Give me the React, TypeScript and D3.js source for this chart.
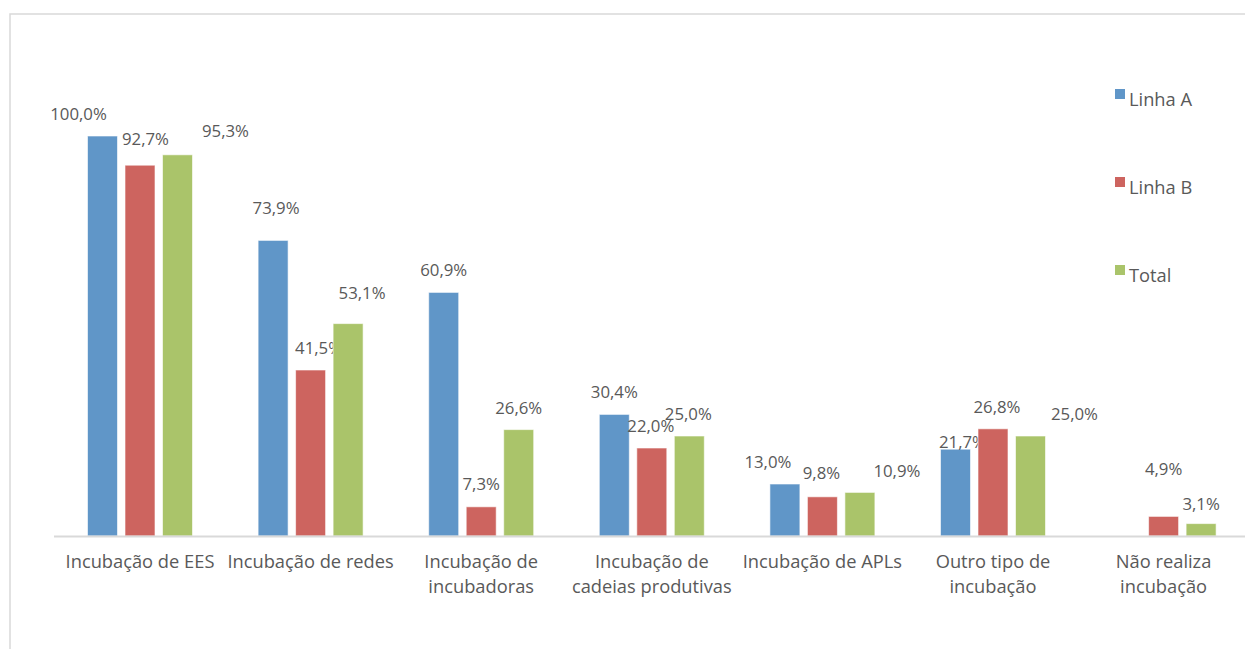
import React from "react";
import * as d3 from "d3";

const categories: string[][] = [
  ["Incubação de EES"],
  ["Incubação de redes"],
  ["Incubação de", "incubadoras"],
  ["Incubação de", "cadeias produtivas"],
  ["Incubação de APLs"],
  ["Outro tipo de", "incubação"],
  ["Não realiza", "incubação"],
];
const seriesNames = ["Linha A", "Linha B", "Total"];
const linhaA = [100.0, 73.9, 60.9, 30.4, 13.0, 21.7, 0];
const linhaB = [92.7, 41.5, 7.3, 22.0, 9.8, 26.8, 4.9];
const total = [95.3, 53.1, 26.6, 25.0, 10.9, 25.0, 3.1];
const seriesValues = [linhaA, linhaB, total];
const colors = ["#6096c8", "#cd645f", "#aac46a"];

// label layout offsets (dx, distance above bar top) mimicking manual placement
const labelOffsets: [number, number][][] = [
  [[-24, 23], [3, 33], [0, 23], [0, 23], [-17, 23], [7, 8], [0, 23]],
  [[5.5, 27], [8, 23], [0, 23], [-1, 23], [-1, 24], [4, 22], [0, 48]],
  [[48, 24], [14, 31], [0, 22], [-1, 23], [37, 22], [44, 23], [0, 20]],
];

const W = 1245;
const H = 649;
const FONT = "'Open Sans', 'Noto Sans', sans-serif";
const TEXT = "#595959";

export default function App() {
  const catKeys = categories.map((c) => c.join(" "));
  const x = d3.scaleBand<string>().domain(catKeys).range([54.7, 1248.9]).padding(0);
  const bw = x.bandwidth();
  const xs = d3
    .scaleBand<string>()
    .domain(seriesNames)
    .range([bw / 2 - 56.25, bw / 2 + 56.25])
    .paddingInner(0.2)
    .paddingOuter(0.1);
  const y = d3.scaleLinear().domain([0, 120]).range([536, 56]);
  const fmt = (v: number) => d3.format(".1f")(v).replace(".", ",") + "%";

  return (
    <svg
      width={W}
      height={H}
      style={{ position: "absolute", left: 0, top: 0, background: "#fff" }}
      fontFamily={FONT}
    >
      <rect x={10} y={14} width={W + 20} height={H + 20} fill="#fff" stroke="#d9d9d9" strokeWidth={1.5} />
      {seriesNames.map((s, si) =>
        catKeys.map((c, ci) => {
          const v = seriesValues[si][ci];
          if (!v) return null;
          const bx = (x(c) as number) + (xs(s) as number);
          const by = y(v);
          const [dx, dy] = labelOffsets[si][ci];
          return (
            <g key={s + c}>
              <rect
                x={bx}
                y={by}
                width={xs.bandwidth()}
                height={y(0) - by}
                fill={colors[si]}
                stroke="#fff"
                strokeOpacity={0.6}
                strokeWidth={1}
              />
              <text
                x={bx + xs.bandwidth() / 2 + dx}
                y={by - dy}
                textAnchor="middle"
                dominantBaseline="central"
                fontSize={16.8}
                fill={TEXT}
              >
                {fmt(v)}
              </text>
            </g>
          );
        })
      )}
      <line x1={54} x2={W} y1={y(0) + 0.5} y2={y(0) + 0.5} stroke="#d9d9d9" strokeWidth={2} />
      {categories.map((lines, ci) => (
        <text
          key={ci}
          x={(x(catKeys[ci]) as number) + bw / 2}
          y={562}
          textAnchor="middle"
          fontSize={18.3}
          fill={TEXT}
        >
          {lines.map((l, li) => (
            <tspan key={li} x={(x(catKeys[ci]) as number) + bw / 2} dy={li === 0 ? "0.35em" : 25}>
              {l}
            </tspan>
          ))}
        </text>
      ))}
      {seriesNames.map((s, si) => (
        <g key={s} transform={`translate(1115, ${94 + si * 88})`}>
          <rect x={0} y={-5} width={10} height={10} fill={colors[si]} />
          <text x={14} y={4} dominantBaseline="central" fontSize={18.3} fill={TEXT}>
            {s}
          </text>
        </g>
      ))}
    </svg>
  );
}
